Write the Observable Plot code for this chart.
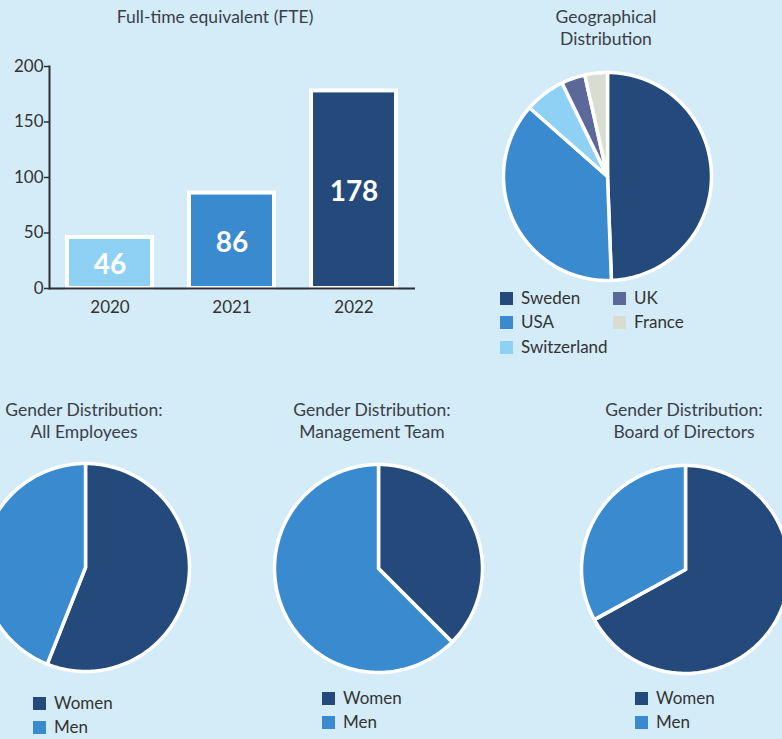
<!DOCTYPE html>
<html><head><meta charset="utf-8">
<script src="https://cdn.jsdelivr.net/npm/d3@7"></script>
<script src="https://cdn.jsdelivr.net/npm/@observablehq/plot@0.6"></script>
<style>
html,body{margin:0;padding:0;background:#d4ebf8;}
#root{position:relative;width:782px;height:739px;overflow:hidden;background:#d4ebf8;font-family:Lato,sans-serif;color:#3a3f47;}
.title{position:absolute;text-align:center;font-size:17.5px;line-height:22px;color:#3a3f47;transform:translateX(-50%);white-space:nowrap;}
.item{position:absolute;display:flex;align-items:center;white-space:nowrap;font-size:17px;color:#333;height:18px;line-height:18px;}
.sw{width:13px;height:13px;margin-right:8px;flex:none;}
</style></head><body><div id="root"></div>
<script>
// ---- data ----
const years = ["2020", "2021", "2022"];
const fte = [46, 86, 178];
const yearColors = ["#8fd1f4", "#3a8ad0", "#244a7c"];
const yTicks = [0, 50, 100, 150, 200];

const countries = ["Sweden", "USA", "Switzerland", "UK", "France"];
const countryShare = [49.4, 37.1, 6.3, 3.7, 3.5];
const countryColors = ["#244a7c", "#3a8ad0", "#8fd1f4", "#5b6899", "#d9dcd0"];

const genders = ["Women", "Men"];
const genderColors = ["#244a7c", "#3a8ad0"];
const allEmployees = [56, 44];
const managementTeam = [37.5, 62.5];
const boardOfDirectors = [67, 33];

// ---- helpers ----
const root = document.getElementById("root");
function place(el, left, top) { el.style.position = "absolute"; el.style.left = left + "px"; el.style.top = top + "px"; root.appendChild(el); return el; }
function title(lines, cx, top) {
  const d = document.createElement("div"); d.className = "title";
  d.innerHTML = lines.join("<br>");
  d.style.left = cx + "px"; d.style.top = top + "px"; root.appendChild(d);
}
function legendItem(label, color, left, cy) {
  const d = document.createElement("div"); d.className = "item";
  d.innerHTML = `<span class="sw" style="background:${color}"></span><span>${label}</span>`;
  d.style.left = left + "px"; d.style.top = (cy - 9) + "px"; root.appendChild(d);
}
function piePlot(labels, values, colors, R) {
  const pad = 5, W = 2 * (R + pad);
  const arcs = d3.pie().sort(null).value(d => d)(values);
  const pts = [];
  arcs.forEach((a, i) => {
    const n = Math.max(2, Math.ceil((a.endAngle - a.startAngle) / 0.02));
    pts.push({k: labels[i], x: 0, y: 0});
    for (let j = 0; j <= n; j++) {
      const t = a.startAngle + (a.endAngle - a.startAngle) * j / n;
      pts.push({k: labels[i], x: Math.sin(t), y: Math.cos(t)});
    }
    pts.push({k: labels[i], x: 0, y: 0});
  });
  return Plot.plot({
    width: W, height: W, margin: 0,
    x: {domain: [-1, 1], range: [pad, W - pad], axis: null},
    y: {domain: [-1, 1], range: [W - pad, pad], axis: null},
    color: {domain: labels, range: colors},
    style: {background: "transparent", overflow: "visible"},
    marks: [Plot.line(pts, {x: "x", y: "y", z: "k", fill: "k", stroke: "white", strokeWidth: 3.5, strokeLinejoin: "round"})]
  });
}

// ---- bar chart ----
const fteData = years.map((y, i) => ({year: y, value: fte[i]}));
const bar = Plot.plot({
  width: 420, height: 330, marginTop: 66, marginBottom: 42, marginLeft: 49, marginRight: 5,
  style: {background: "transparent", fontFamily: "Lato, sans-serif", color: "#333", overflow: "visible"},
  x: {domain: years, paddingInner: 0.3, paddingOuter: 0.15, label: null, axis: null},
  y: {domain: [0, 200], label: null, axis: null},
  color: {domain: years, range: yearColors},
  marks: [
    Plot.barY(fteData, {x: "year", y: "value", fill: "year", stroke: "white", strokeWidth: 4}),
    Plot.text(fteData, {x: "year", y: d => d.value / 2, dy: 2, text: d => String(d.value), fill: "white", fontSize: 28, fontWeight: "bold"}),
    Plot.axisY({ticks: yTicks, tickSize: 5, tickPadding: 1, label: null, fontSize: 17, stroke: "#2b2f38", strokeWidth: 1.5}),
    Plot.axisX({tickSize: 0, tickPadding: 12, label: null, fontSize: 17}),
    Plot.ruleY([0], {stroke: "#2b2f38", strokeWidth: 2}),
    Plot.frame({anchor: "left", stroke: "#2b2f38", strokeWidth: 2})
  ]
});
place(bar, 0, 0);
title(["Full-time equivalent (FTE)"], 215, 6);

// ---- geographical pie ----
const R1 = 104;
place(piePlot(countries, countryShare, countryColors, R1), 607 - R1 - 5, 176 - R1 - 5);
title(["Geographical", "Distribution"], 606, 6);
const geoCols = [500, 613], geoRows = [298, 322, 347];
countries.forEach((c, i) => legendItem(c, countryColors[i], geoCols[Math.floor(i / 3)], geoRows[i % 3]));

// ---- gender pies ----
const genderCharts = [
  {name: ["Gender Distribution:", "All Employees"], values: allEmployees, cx: 85, cy: 567, tx: 84, lx: 33, ly: 703},
  {name: ["Gender Distribution:", "Management Team"], values: managementTeam, cx: 378, cy: 568, tx: 372, lx: 322, ly: 698},
  {name: ["Gender Distribution:", "Board of Directors"], values: boardOfDirectors, cx: 685, cy: 569, tx: 684, lx: 635, ly: 698}
];
const R2 = 104;
genderCharts.forEach(g => {
  place(piePlot(genders, g.values, genderColors, R2), g.cx - R2 - 5, g.cy - R2 - 5);
  title(g.name, g.tx, 399);
  genders.forEach((s, i) => legendItem(s, genderColors[i], g.lx, g.ly + 24 * i));
});
</script></body></html>
